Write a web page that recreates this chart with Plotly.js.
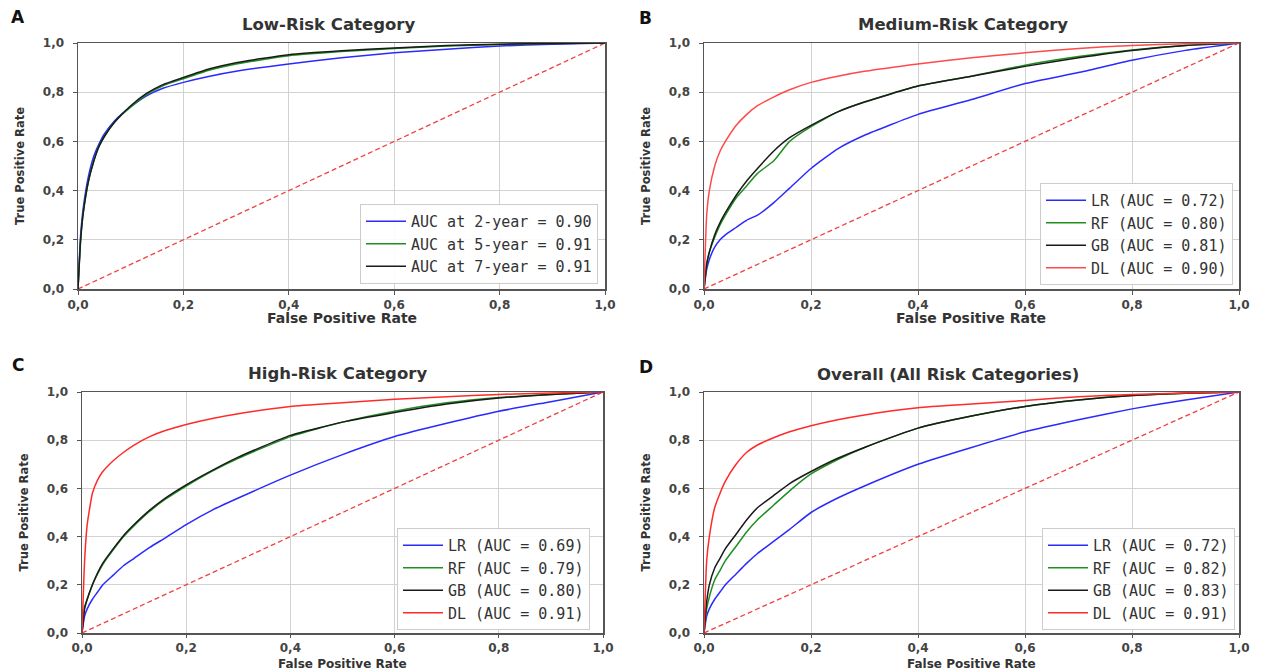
<!DOCTYPE html>
<html>
<head>
<meta charset="utf-8">
<script src="https://cdn.plot.ly/plotly-3.0.1.min.js"></script>
<style>
  html, body { margin: 0; padding: 0; background: #ffffff; }
  #chart { width: 1264px; height: 672px; }
</style>
</head>
<body>
<div id="chart"></div>
<script>
// ---------------- DATA ----------------
const tickVals = [0, 0.2, 0.4, 0.6, 0.8, 1.0];
const tickLabels = ['0,0', '0,2', '0,4', '0,6', '0,8', '1,0'];

const diagX = [0, 1];
const diagY = [0, 1];

// Panel A: Low-Risk Category
const fprLow = [0, 0.005, 0.01, 0.02, 0.03, 0.04, 0.05, 0.07, 0.1, 0.13, 0.16, 0.2, 0.25, 0.3, 0.4, 0.5, 0.6, 0.7, 0.8, 0.9, 1.0];
const low2yr = [0, 0.22, 0.33, 0.46, 0.54, 0.59, 0.63, 0.685, 0.74, 0.785, 0.815, 0.84, 0.865, 0.885, 0.915, 0.94, 0.96, 0.975, 0.988, 0.995, 1];
const low5yr = [0, 0.2, 0.31, 0.44, 0.52, 0.58, 0.62, 0.68, 0.74, 0.79, 0.825, 0.855, 0.89, 0.915, 0.948, 0.965, 0.978, 0.988, 0.994, 0.998, 1];
const low7yr = [0, 0.2, 0.31, 0.44, 0.52, 0.58, 0.62, 0.68, 0.745, 0.795, 0.83, 0.86, 0.895, 0.92, 0.952, 0.968, 0.98, 0.99, 0.995, 0.998, 1];
const lowNames = ['AUC at 2-year = 0.90', 'AUC at 5-year = 0.91', 'AUC at 7-year = 0.91'];

// Panels B, C, D share an FPR grid
const fprGrid = [0, 0.005, 0.01, 0.02, 0.03, 0.04, 0.06, 0.08, 0.1, 0.13, 0.16, 0.2, 0.25, 0.3, 0.4, 0.5, 0.6, 0.7, 0.8, 0.9, 1.0];

// Panel B: Medium-Risk Category
const medLR = [0, 0.08, 0.12, 0.17, 0.2, 0.22, 0.25, 0.28, 0.3, 0.35, 0.41, 0.49, 0.57, 0.625, 0.71, 0.77, 0.835, 0.88, 0.93, 0.97, 1];
const medRF = [0, 0.1, 0.15, 0.21, 0.26, 0.3, 0.37, 0.42, 0.47, 0.52, 0.6, 0.66, 0.72, 0.76, 0.825, 0.865, 0.91, 0.945, 0.972, 0.99, 1];
const medGB = [0, 0.1, 0.15, 0.22, 0.27, 0.31, 0.38, 0.44, 0.49, 0.56, 0.615, 0.665, 0.72, 0.76, 0.825, 0.865, 0.905, 0.94, 0.97, 0.99, 1];
const medDL = [0, 0.3, 0.4, 0.5, 0.56, 0.6, 0.665, 0.71, 0.745, 0.78, 0.81, 0.84, 0.865, 0.885, 0.915, 0.94, 0.96, 0.978, 0.99, 0.997, 1];
const medNames = ['LR (AUC = 0.72)', 'RF (AUC = 0.80)', 'GB (AUC = 0.81)', 'DL (AUC = 0.90)'];

// Panel C: High-Risk Category
const highLR = [0, 0.07, 0.1, 0.14, 0.17, 0.2, 0.24, 0.28, 0.31, 0.355, 0.395, 0.45, 0.51, 0.56, 0.655, 0.74, 0.815, 0.87, 0.92, 0.96, 1];
const highRF = [0, 0.11, 0.14, 0.2, 0.245, 0.285, 0.345, 0.4, 0.445, 0.505, 0.555, 0.61, 0.672, 0.725, 0.815, 0.875, 0.92, 0.955, 0.977, 0.99, 1];
const highGB = [0, 0.1, 0.14, 0.2, 0.25, 0.29, 0.35, 0.405, 0.45, 0.51, 0.56, 0.615, 0.675, 0.73, 0.82, 0.875, 0.915, 0.95, 0.975, 0.99, 1];
const highDL = [0, 0.3, 0.45, 0.58, 0.635, 0.67, 0.715, 0.75, 0.78, 0.815, 0.84, 0.865, 0.89, 0.91, 0.94, 0.955, 0.97, 0.98, 0.99, 0.996, 1];
const highNames = ['LR (AUC = 0.69)', 'RF (AUC = 0.79)', 'GB (AUC = 0.80)', 'DL (AUC = 0.91)'];

// Panel D: Overall (All Risk Categories)
const allLR = [0, 0.07, 0.1, 0.14, 0.17, 0.2, 0.245, 0.29, 0.33, 0.38, 0.43, 0.5, 0.56, 0.61, 0.7, 0.77, 0.835, 0.885, 0.93, 0.967, 1];
const allRF = [0, 0.1, 0.15, 0.22, 0.26, 0.3, 0.36, 0.42, 0.47, 0.53, 0.59, 0.66, 0.72, 0.77, 0.85, 0.9, 0.94, 0.967, 0.985, 0.995, 1];
const allGB = [0, 0.13, 0.2, 0.27, 0.31, 0.35, 0.41, 0.47, 0.52, 0.57, 0.62, 0.67, 0.725, 0.77, 0.85, 0.9, 0.94, 0.967, 0.985, 0.995, 1];
const allDL = [0, 0.3, 0.4, 0.52, 0.58, 0.63, 0.7, 0.75, 0.78, 0.81, 0.835, 0.86, 0.885, 0.905, 0.935, 0.95, 0.965, 0.98, 0.99, 0.996, 1];
const allNames = ['LR (AUC = 0.72)', 'RF (AUC = 0.82)', 'GB (AUC = 0.83)', 'DL (AUC = 0.91)'];

const panelTitles = ['Low-Risk Category', 'Medium-Risk Category', 'High-Risk Category', 'Overall (All Risk Categories)'];
const panelLetters = ['A', 'B', 'C', 'D'];
const xTitle = 'False Positive Rate';
const yTitle = 'True Positive Rate';

// ---------------- STYLE ----------------
const C_BLUE = '#2a2aff';
const C_GREEN = '#1f8f1f';
const C_BLACK = '#1a1a1a';
const C_RED = '#ff2a2a';
const modelColors = [C_BLUE, C_GREEN, C_BLACK, C_RED];
const FONT = 'DejaVu Sans, sans-serif';
const MONO = 'DejaVu Sans Mono, monospace';

const traces = [];
function curve(x, y, name, color, ax, legend) {
  traces.push({
    type: 'scatter', mode: 'lines', x: x, y: y, name: name,
    xaxis: ax[0], yaxis: ax[1], legend: legend,
    line: { color: color, width: 1.5, shape: 'spline', smoothing: 0.5 },
    hoverinfo: 'skip'
  });
}
function diag(ax) {
  traces.push({
    type: 'scatter', mode: 'lines', x: diagX, y: diagY, showlegend: false,
    xaxis: ax[0], yaxis: ax[1],
    line: { color: '#f04040', width: 1.3, dash: '5px,3px' }, hoverinfo: 'skip'
  });
}

const axA = ['x', 'y'], axB = ['x2', 'y2'], axC = ['x3', 'y3'], axD = ['x4', 'y4'];

diag(axA);
curve(fprLow, low2yr, lowNames[0], C_BLUE, axA, 'legend');
curve(fprLow, low5yr, lowNames[1], C_GREEN, axA, 'legend');
curve(fprLow, low7yr, lowNames[2], C_BLACK, axA, 'legend');

diag(axB);
[medLR, medRF, medGB, medDL].forEach((s, i) => curve(fprGrid, s, medNames[i], i === 3 ? '#ff4a4a' : modelColors[i], axB, 'legend2'));

diag(axC);
[highLR, highRF, highGB, highDL].forEach((s, i) => curve(fprGrid, s, highNames[i], modelColors[i], axC, 'legend3'));

diag(axD);
[allLR, allRF, allGB, allDL].forEach((s, i) => curve(fprGrid, s, allNames[i], modelColors[i], axD, 'legend4'));

// ---------------- LAYOUT ----------------
const W = 1264, H = 672;
function px(x) { return x / W; }
function py(y) { return 1 - y / H; }

function baseAxis(d, anchor) {
  return {
    domain: d, anchor: anchor, range: [0, 1], tickvals: tickVals, ticktext: tickLabels,
    showgrid: true, gridcolor: '#d2d2d2', gridwidth: 1, zeroline: false,
    showline: true, mirror: true, linecolor: '#555555', linewidth: 1.5,
    ticks: 'outside', ticklen: 4, tickcolor: '#555555', tickwidth: 1,
    tickfont: { family: FONT, size: 12, color: '#444444', weight: 'bold' }
  };
}
function xAxis(d, anchor, tlen) {
  const a = baseAxis(d, anchor);
  a.ticklen = tlen;
  return a;
}
function yAxis(d, anchor, standoff) {
  const a = baseAxis(d, anchor);
  a.ticklabelstandoff = 6;
  a.title = { text: yTitle, standoff: standoff, font: { family: FONT, size: 11.5, color: '#333333', weight: 'bold' } };
  return a;
}

const topY = [py(289), py(43)];
const botY = [py(633), py(392)];
const leftXA = [px(78), px(605)];
const leftXC = [px(82), px(603)];
const rightX = [px(704), px(1239)];

function legendAt(xr, yb) {
  return {
    x: xr, y: yb, xanchor: 'right', yanchor: 'bottom', xref: 'paper', yref: 'paper',
    bgcolor: 'rgba(255,255,255,0.9)', bordercolor: '#cccccc', borderwidth: 1,
    font: { family: MONO, size: 15, color: '#333333' }, tracegroupgap: 0, itemwidth: 40
  };
}

const annotations = [];
const titlePos = [[328, 25], [963, 25], [337, 373], [948, 374]];
panelTitles.forEach((t, i) => annotations.push({
  text: t, xref: 'paper', yref: 'paper', x: px(titlePos[i][0]), y: py(titlePos[i][1]),
  xanchor: 'center', yanchor: 'middle', showarrow: false,
  font: { family: FONT, size: 16.5, color: '#333333', weight: 'bold' }
}));
const letterPos = [[18, 17], [646, 18], [18, 365], [646, 367]];
panelLetters.forEach((t, i) => annotations.push({
  text: t, xref: 'paper', yref: 'paper', x: px(letterPos[i][0]), y: py(letterPos[i][1]),
  xanchor: 'center', yanchor: 'middle', showarrow: false,
  font: { family: FONT, size: 17, color: '#111111', weight: 'bold' }
}));
// x-axis titles, centred under each plot area
const xTitleDomains = [leftXA, rightX, leftXC, rightX];
xTitleDomains.forEach((d, i) => {
  const top = i < 2;
  annotations.push({
    text: xTitle, xref: 'paper', yref: 'paper', x: (d[0] + d[1]) / 2,
    y: top ? py(318) : 0, yanchor: top ? 'middle' : 'bottom',
    xanchor: 'center', showarrow: false, borderpad: 0,
    font: { family: FONT, size: top ? 14 : 12, color: '#333333', weight: 'bold' }
  });
});

const layout = {
  width: W, height: H,
  margin: { l: 0, r: 0, t: 0, b: 0 },
  paper_bgcolor: '#ffffff', plot_bgcolor: '#ffffff',
  separators: ',.',
  xaxis: xAxis(leftXA, 'y', 4),
  yaxis: yAxis(topY, 'x', 16),
  xaxis2: xAxis(rightX, 'y2', 4),
  yaxis2: yAxis(topY, 'x2', 16),
  xaxis3: xAxis(leftXC, 'y3', 3),
  yaxis3: yAxis(botY, 'x3', 16),
  xaxis4: xAxis(rightX, 'y4', 3),
  yaxis4: yAxis(botY, 'x4', 16),
  legend: legendAt(px(598), py(284)),
  legend2: legendAt(px(1233), py(285)),
  legend3: legendAt(px(590), py(630)),
  legend4: legendAt(px(1235), py(630)),
  annotations: annotations,
  showlegend: true
};

Plotly.newPlot('chart', traces, layout, { displayModeBar: false, staticPlot: true });
</script>
</body>
</html>
